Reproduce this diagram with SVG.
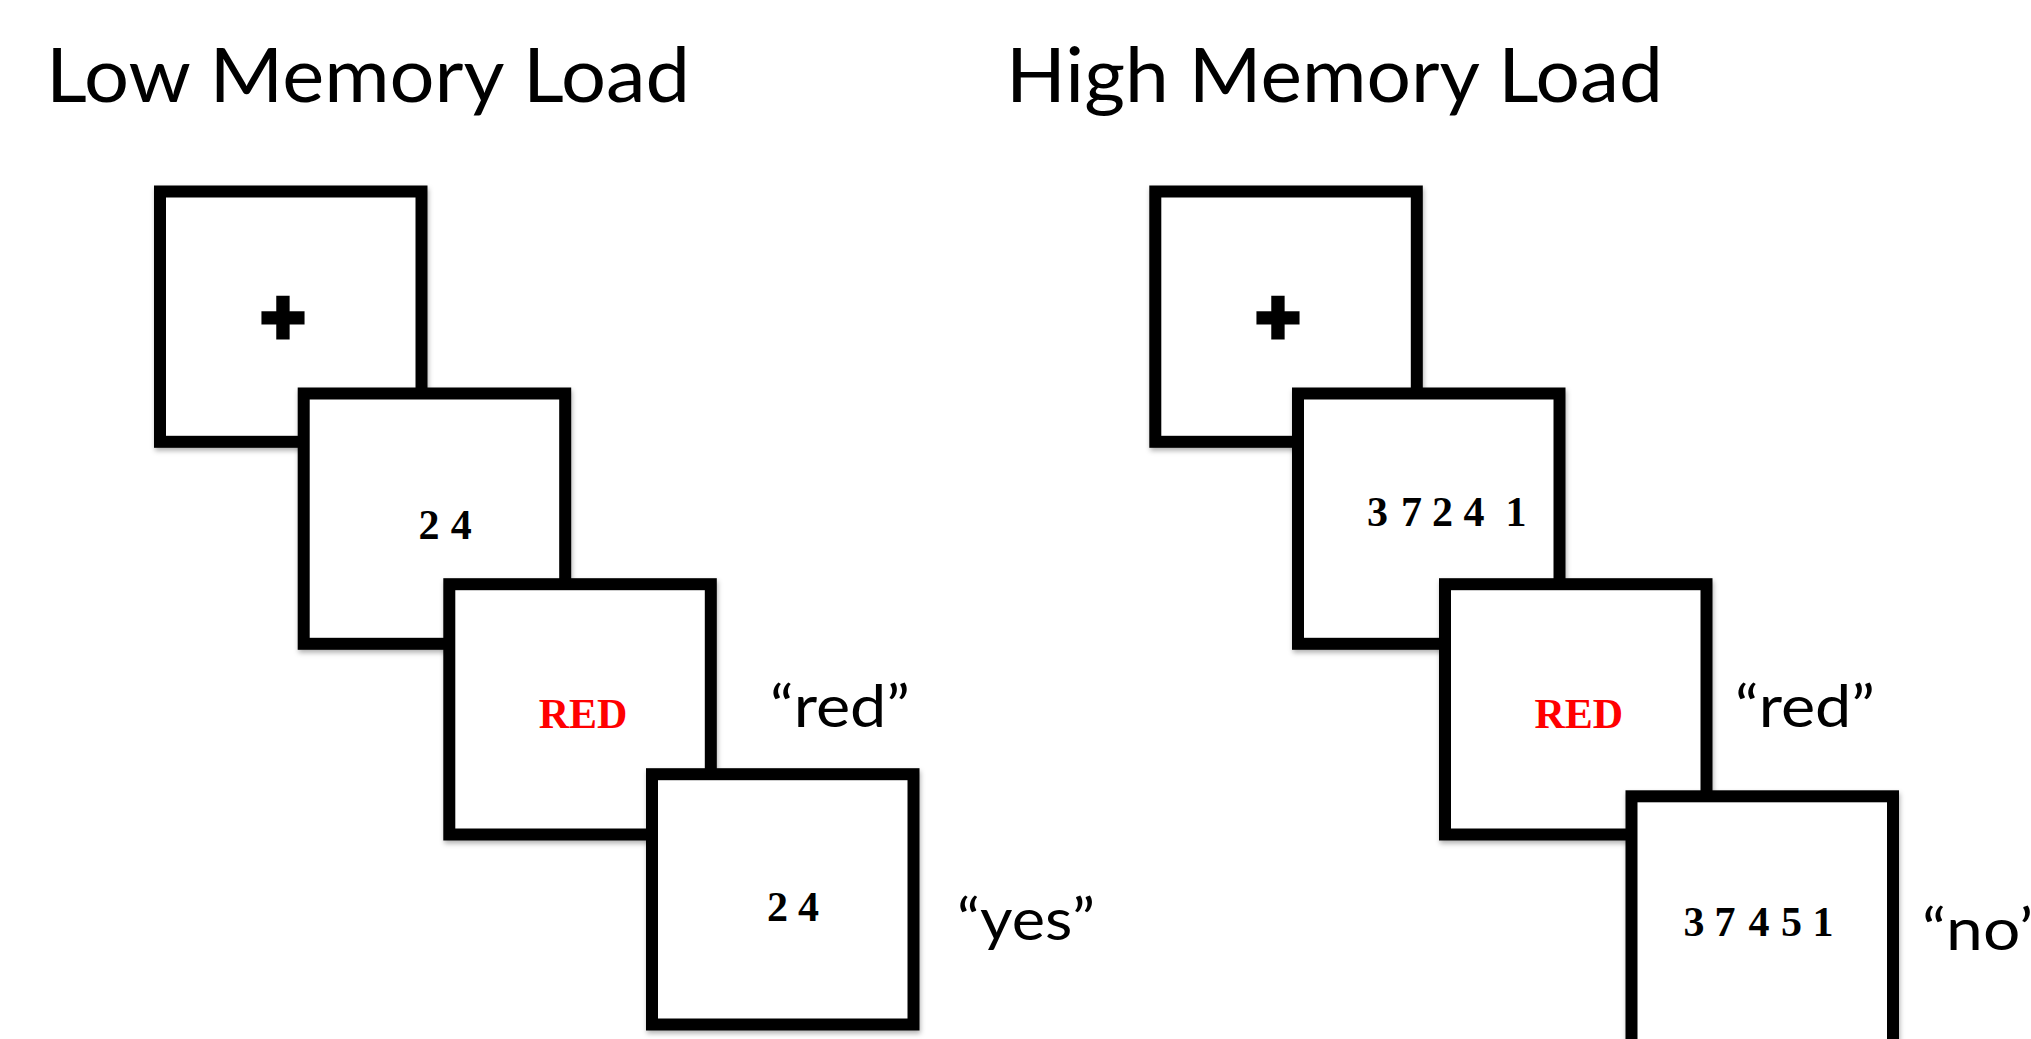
<svg xmlns="http://www.w3.org/2000/svg" width="2031" height="1039" viewBox="0 0 2031 1039">
  <defs>
    <filter id="sh" x="-10%" y="-10%" width="125%" height="125%">
      <feDropShadow dx="1" dy="3" stdDeviation="2.5" flood-color="#000" flood-opacity="0.3"/>
    </filter>
    <style>
      .box { fill:#ffffff; stroke:#000000; stroke-width:12; filter:url(#sh); }
      .title { font-family: Lato, "Open Sans", "Liberation Sans", sans-serif; font-size:76px; fill:#000; }
      .lbl { font-family: Lato, "Open Sans", "Liberation Sans", sans-serif; font-size:59px; fill:#000; }
      .dig { font-family: "Liberation Serif", "Times New Roman", serif; font-weight:bold; font-size:42px; fill:#000; }
      .red { font-family: "Liberation Serif", "Times New Roman", serif; font-weight:bold; font-size:42px; fill:#ff0000; }
      .fix { font-family: "Liberation Sans", Arial, sans-serif; font-weight:bold; font-size:76px; fill:#000; stroke:#000; stroke-width:5; text-anchor:middle; }
    </style>
  </defs>
  <rect x="0" y="0" width="2031" height="1039" fill="#ffffff"/>

  <g id="titles">
    <text class="title" x="46" y="101.5" textLength="644" lengthAdjust="spacingAndGlyphs">Low Memory Load</text>
    <text class="title" x="1006" y="101.5" textLength="657" lengthAdjust="spacingAndGlyphs">High Memory Load</text>
  </g>

  <g id="connectors"></g>

  <!-- Low memory load sequence -->
  <g id="low-fixation">
    <rect class="box" x="160" y="191.5" width="261.5" height="250.3"/>
    <text class="fix" x="283" y="343">+</text>
  </g>
  <g id="low-memory-set">
    <rect class="box" x="303.7" y="393.5" width="261.5" height="250.3"/>
    <text class="dig" x="418.5 440 450.7" y="539.3">2 4</text>
  </g>
  <g id="low-stroop">
    <rect class="box" x="449.3" y="584.2" width="261.5" height="250.3"/>
    <text class="red" x="538.7" y="728.3">RED</text>
  </g>
  <g id="low-probe">
    <rect class="box" x="652" y="774.2" width="261.5" height="250.3"/>
    <text class="dig" x="766.9 788 798" y="920.7">2 4</text>
  </g>
  <g id="low-labels">
    <text class="lbl" x="770" y="726.7" textLength="140" lengthAdjust="spacingAndGlyphs">“red”</text>
    <text class="lbl" x="957" y="940" textLength="138" lengthAdjust="spacingAndGlyphs">“yes”</text>
  </g>

  <!-- High memory load sequence -->
  <g id="high-fixation">
    <rect class="box" x="1155.3" y="191.5" width="261.5" height="250.3"/>
    <text class="fix" x="1278" y="343">+</text>
  </g>
  <g id="high-memory-set">
    <rect class="box" x="1298" y="393.5" width="261.5" height="250.3"/>
    <text class="dig" x="1367 1392 1401 1420 1432 1455 1463.5 1490 1505.5" y="526">3 7 2 4 1</text>
  </g>
  <g id="high-stroop">
    <rect class="box" x="1445" y="584.2" width="261.5" height="250.3"/>
    <text class="red" x="1534.4" y="728.3">RED</text>
  </g>
  <g id="high-probe">
    <rect class="box" x="1631.5" y="796.3" width="261.5" height="250.3"/>
    <text class="dig" x="1683.5 1705 1714.5 1740 1748.5 1772 1781 1805 1812.5" y="935.7">3 7 4 5 1</text>
  </g>
  <g id="high-labels">
    <text class="lbl" x="1735" y="726.7" textLength="140" lengthAdjust="spacingAndGlyphs">“red”</text>
    <text class="lbl" x="1922" y="950" textLength="121" lengthAdjust="spacingAndGlyphs">“no”</text>
  </g>
</svg>
